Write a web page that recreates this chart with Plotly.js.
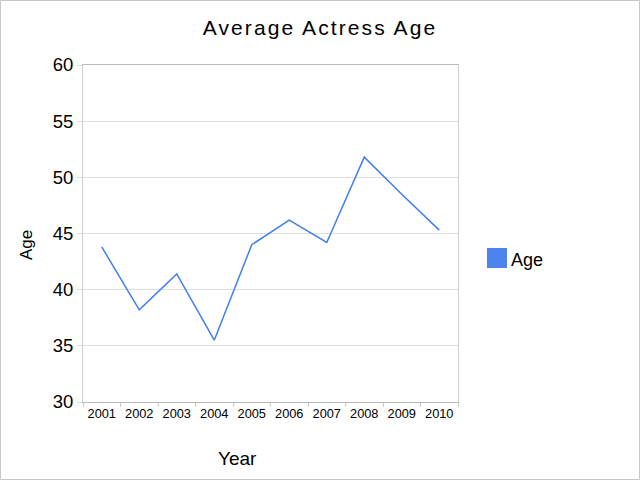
<!DOCTYPE html>
<html><head><meta charset="utf-8">
<script src="https://cdn.plot.ly/plotly-3.0.1.min.js"></script>
<style>body{margin:0;padding:0;background:#fff}#c{width:640px;height:480px}.gtitle{letter-spacing:2.1px}</style>
</head><body><div id="c"></div>
<script>
const years = ['2001','2002','2003','2004','2005','2006','2007','2008','2009','2010'];
const ages = [43.8, 38.2, 41.4, 35.5, 44.0, 46.2, 44.2, 51.8, 48.5, 45.3];
const seriesName = 'Age';
const yTicks = [30, 35, 40, 45, 50, 55, 60];

const L = 83, R = 182, T = 65, B = 78;
const W = 640 - L - R, H = 480 - T - B;
const px = v => v / W, py = v => v / H;
const font = 'Liberation Sans, Arial, sans-serif';

const trace = {
  x: years, y: ages, type: 'scatter', mode: 'lines', name: seriesName,
  line: {color: '#3f7fef', width: 1.5}, showlegend: false, hoverinfo: 'x+y'
};

const layout = {
  width: 640, height: 480,
  margin: {l: L, r: R, t: T, b: B, pad: 0},
  paper_bgcolor: '#fff', plot_bgcolor: '#fff',
  font: {family: font, color: '#000'},
  title: {text: 'Average Actress Age', x: 0.5, xref: 'container', xanchor: 'center',
          y: 1 - 28/480, yref: 'container', yanchor: 'middle',
          font: {family: font, size: 21, color: '#000'}},
  xaxis: {
    type: 'category', range: [-0.5, 9.5], tickson: 'boundaries', tickangle: 0,
    ticks: 'outside', ticklen: 4, tickcolor: '#ccc', tickwidth: 1,
    showgrid: false, showline: true, linecolor: '#bbb', linewidth: 1, mirror: true,
    tickfont: {family: font, size: 12.8, color: '#000'}, zeroline: false
  },
  yaxis: {
    range: [30, 60], tickvals: yTicks, ticktext: yTicks.map(String),
    ticks: 'outside', ticklen: 5, tickcolor: '#ddd',
    showgrid: true, gridcolor: '#ddd', gridwidth: 1,
    showline: true, linecolor: '#ccc', mirror: true, zeroline: false,
    tickfont: {family: font, size: 18.5, color: '#000'}
  },
  shapes: [
    {type: 'rect', xref: 'paper', yref: 'paper',
     x0: px(-L + 0.5), x1: px(640 - L - 0.5), y0: py(-B + 0.5), y1: 1 + py(T - 0.5),
     line: {color: '#c8c8c8', width: 1}, fillcolor: 'rgba(0,0,0,0)', layer: 'below'},
    {type: 'rect', xref: 'paper', yref: 'paper',
     x0: px(487 - L), x1: px(507 - L), y0: 1 - py(268 - T), y1: 1 - py(248 - T),
     line: {color: '#4a84ec', width: 0}, fillcolor: '#4a84ec'}
  ],
  annotations: [
    {text: seriesName, xref: 'paper', yref: 'paper', x: px(509 - L), y: 1 - py(260 - T),
     xanchor: 'left', yanchor: 'middle', showarrow: false, font: {family: font, size: 18, color: '#000'}},
    {text: 'Year', xref: 'paper', yref: 'paper', x: px(237 - L), y: 1 - py(458 - T),
     xanchor: 'center', yanchor: 'middle', showarrow: false, font: {family: font, size: 19, color: '#000'}},
    {text: 'Age', xref: 'paper', yref: 'paper', x: px(26 - L), y: 1 - py(245 - T), textangle: -90,
     xanchor: 'center', yanchor: 'middle', showarrow: false, font: {family: font, size: 17, color: '#000'}}
  ],
  showlegend: false
};

Plotly.newPlot('c', [trace], layout, {displayModeBar: false, staticPlot: true});
</script></body></html>
